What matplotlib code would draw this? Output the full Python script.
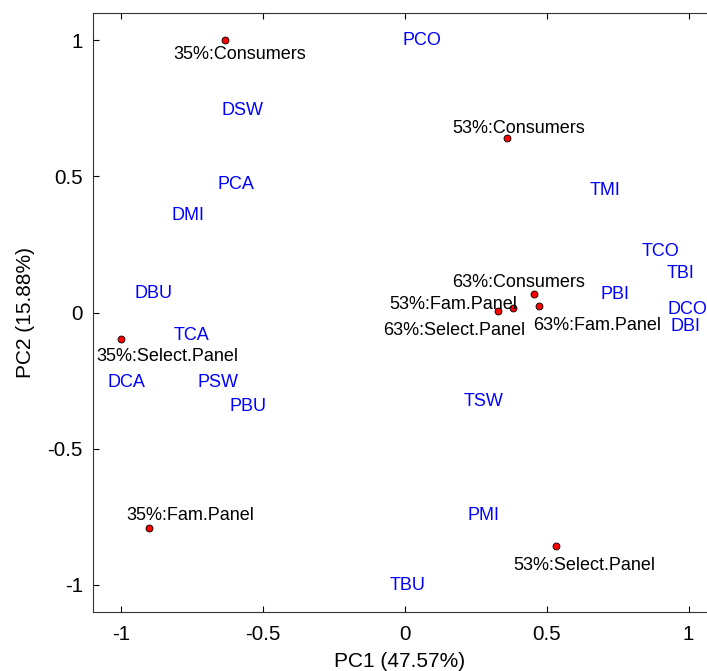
import matplotlib
matplotlib.use("Agg")
import matplotlib.pyplot as plt
from matplotlib.ticker import FuncFormatter

# ---- data ----
sample_names = ["35%:Consumers", "53%:Consumers", "63%:Consumers",
                "53%:Fam.Panel", "63%:Select.Panel", "63%:Fam.Panel",
                "35%:Select.Panel", "35%:Fam.Panel", "53%:Select.Panel"]
sample_pc1 = [-0.632, 0.361, 0.456, 0.382, 0.328, 0.472, -1.002, -0.903, 0.534]
sample_pc2 = [1.000, 0.640, 0.068, 0.017, 0.004, 0.025, -0.096, -0.790, -0.858]

var_names = ["PCO", "DSW", "PCA", "DMI", "DBU", "TCA", "DCA", "PSW", "PBU",
             "TMI", "TCO", "TBI", "PBI", "DCO", "DBI", "TSW", "PMI", "TBU"]
var_pc1 = [0.060, -0.571, -0.594, -0.764, -0.887, -0.752, -0.982, -0.657, -0.553,
           0.705, 0.902, 0.972, 0.741, 0.995, 0.990, 0.279, 0.276, 0.011]
var_pc2 = [1.005, 0.748, 0.478, 0.365, 0.076, -0.078, -0.251, -0.251, -0.337,
           0.454, 0.233, 0.151, 0.075, 0.020, -0.045, -0.318, -0.740, -0.994]

x_ticks = [-1, -0.5, 0, 0.5, 1]
y_ticks = [-1, -0.5, 0, 0.5, 1]
x_label = "PC1 (47.57%)"
y_label = "PC2 (15.88%)"

# label offsets (pixels, label centre relative to dot; +x right, +y up)
label_offsets = [(14.6, -12.7), (11.4, 12.0), (-15.7, 13.0),
                 (-59.5, 5.3), (-43.7, -17.3), (58.7, -18.3),
                 (47.3, -16.3), (41.3, 13.7), (28.2, -17.3)]

plt.rcParams['font.family'] = ['Liberation Sans', 'DejaVu Sans']

W, H = 707, 671
fig = plt.figure(figsize=(W / 100, H / 100), dpi=100)
left, right, top, bottom = 92.7, 716.9, 13.0, 612.0
ax = fig.add_axes([left / W, (H - bottom) / H, (right - left) / W, (bottom - top) / H])

ax.set_xlim(-1.1, 1.1)
ax.set_ylim(-1.1, 1.1)

half_cap = 6.5
for name, x, y in zip(var_names, var_pc1, var_pc2):
    ax.annotate(name, (x, y), xytext=(0, -half_cap), textcoords='offset pixels',
                ha='center', va='baseline', color='#0000ff', fontsize=13)

ax.plot(sample_pc1, sample_pc2, linestyle='none', marker='o', markersize=5,
        markerfacecolor='#ff0000', markeredgecolor='black', markeredgewidth=0.6,
        zorder=3)
for name, x, y, (dx, dy) in zip(sample_names, sample_pc1, sample_pc2, label_offsets):
    ax.annotate(name, (x, y), xytext=(dx, dy - half_cap), textcoords='offset pixels',
                ha='center', va='baseline', color='black', fontsize=13)

ax.set_xticks(x_ticks)
ax.set_yticks(y_ticks)
fmt = FuncFormatter(lambda v, p: "%g" % v)
ax.xaxis.set_major_formatter(fmt)
ax.yaxis.set_major_formatter(fmt)
ax.tick_params(axis='both', direction='in', length=4, width=0.8, labelsize=14.8,
               top=True, right=True, colors='black')
ax.tick_params(axis='x', pad=9)
ax.tick_params(axis='y', pad=7)
for s in ax.spines.values():
    s.set_linewidth(0.8)
    s.set_color('#333333')

ax.text(0.4915, -(666.7 - bottom) / (bottom - top), x_label, transform=ax.transAxes,
        ha='center', va='baseline', fontsize=15)
ax.text(-(left - 30.7) / (right - left), 0.4993, y_label, transform=ax.transAxes,
        ha='center', va='baseline', rotation=90, rotation_mode='anchor', fontsize=15)

fig.savefig("out.png", dpi=100)
